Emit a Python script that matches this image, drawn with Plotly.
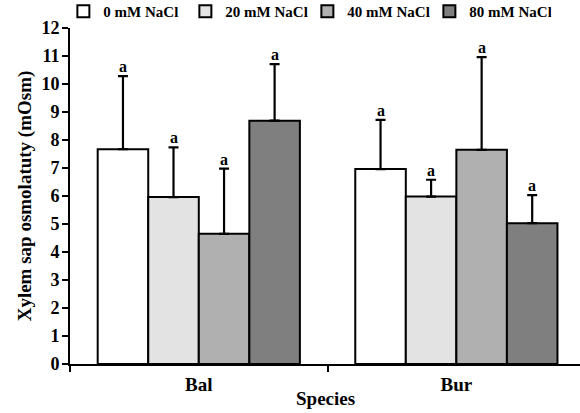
import plotly.graph_objects as go

species = ["Bal", "Bur"]
treatments = ["0 mM NaCl", "20 mM NaCl", "40 mM NaCl", "80 mM NaCl"]
means = [
    [7.67, 6.96],
    [5.96, 5.98],
    [4.65, 7.65],
    [8.69, 5.03],
]
errors = [
    [2.61, 1.76],
    [1.78, 0.60],
    [2.33, 3.31],
    [2.02, 1.00],
]
letters = [["a", "a"], ["a", "a"], ["a", "a"], ["a", "a"]]
colors = ["#ffffff", "#e3e3e3", "#b0b0b0", "#7f7f7f"]

FONT = "Liberation Serif"
bargap = 0.215

fig = go.Figure()
for i, t in enumerate(treatments):
    fig.add_trace(go.Bar(
        x=species, y=means[i], name="<b>%s</b>" % t,
        marker=dict(color=colors[i], line=dict(color="black", width=2)),
        error_y=dict(type="data", array=errors[i], arrayminus=[0] * len(species),
                     symmetric=False, color="black", thickness=2.2, width=5),
    ))

n = len(treatments)
w = (1 - bargap) / n
annotations = []
for i in range(n):
    for j, sp in enumerate(species):
        xpos = j - (1 - bargap) / 2 + (i + 0.5) * w
        annotations.append(dict(
            x=xpos, y=means[i][j] + errors[i][j], xref="x", yref="y",
            text="<b>%s</b>" % letters[i][j], showarrow=False,
            yanchor="bottom", yshift=-1,
            font=dict(family=FONT, size=16, color="black"),
        ))
annotations.append(dict(
    x=0.5, y=0, xref="paper", yref="paper", text="<b>Species</b>",
    showarrow=False, yanchor="top", yshift=-22,
    font=dict(family=FONT, size=19, color="black"),
))

fig.update_layout(
    width=580, height=413,
    margin=dict(l=70, r=0, t=28, b=49, autoexpand=False),
    paper_bgcolor="white", plot_bgcolor="white",
    barmode="group", bargap=bargap, bargroupgap=0,
    font=dict(family=FONT, color="black"),
    showlegend=True,
    legend=dict(orientation="h", x=-0.013, y=1.0, xanchor="left", yanchor="bottom",
                font=dict(family=FONT, size=15, color="black"),
                itemwidth=30, entrywidth=77, tracegroupgap=0, itemclick=False,
                bgcolor="rgba(0,0,0,0)"),
    annotations=annotations,
)
fig.update_xaxes(
    range=[-0.5, 1.48], showline=True, linecolor="black", linewidth=2,
    ticks="outside", tickson="boundaries", ticklen=6, tickwidth=2, tickcolor="black",
    tickfont=dict(family=FONT, size=19, color="black"),
    tickprefix="<b>", ticksuffix="</b>", ticklabelstandoff=2,
    showgrid=False, zeroline=False, automargin=False,
)
fig.update_yaxes(
    range=[0, 12], dtick=1, showline=True, linecolor="black", linewidth=2,
    ticks="outside", ticklen=6, tickwidth=2, tickcolor="black",
    tickfont=dict(family=FONT, size=18, color="black"),
    tickprefix="<b>", ticksuffix="</b>", ticklabelstandoff=-1,
    title=dict(text="<b>Xylem sap osmolatuty (mOsm)</b>", font=dict(family=FONT, size=19), standoff=5),
    showgrid=False, zeroline=False, automargin=False,
)

fig.write_html(
    "out.html",
    config={"displayModeBar": False},
    post_script="document.body.style.margin='0';document.body.style.overflow='hidden';",
)
